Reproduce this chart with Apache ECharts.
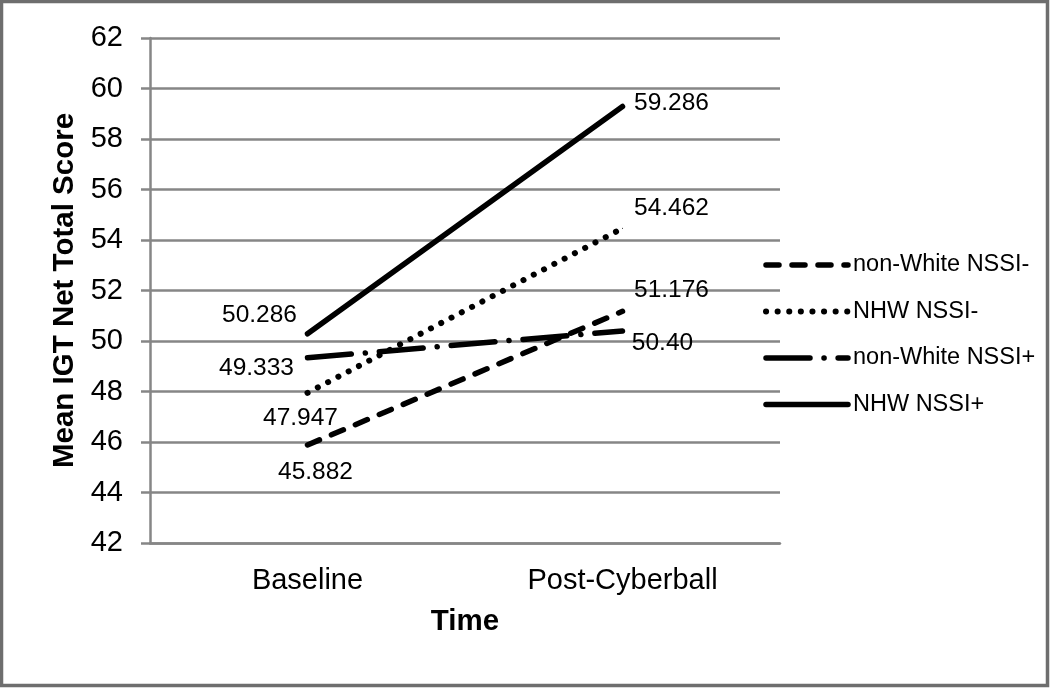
<!DOCTYPE html>
<html>
<head>
<meta charset="utf-8">
<script src="https://cdn.jsdelivr.net/npm/echarts@6/dist/echarts.min.js"></script>
<style>
html,body{margin:0;padding:0;background:#fff;}
#chart{width:1050px;height:688px;}
</style>
</head>
<body>
<div id="chart"></div>
<script>
const categories = ['Baseline', 'Post-Cyberball'];
const seriesNames = ['non-White NSSI-', 'NHW NSSI-', 'non-White NSSI+', 'NHW NSSI+'];
const nonWhiteNSSIminus = [45.882, 51.176];
const nhwNSSIminus = [47.947, 54.462];
const nonWhiteNSSIplus = [49.333, 50.40];
const nhwNSSIplus = [50.286, 59.286];
const labelTexts = [
  ['45.882', '51.176'],
  ['47.947', '54.462'],
  ['49.333', '50.40'],
  ['50.286', '59.286']
];
const yTicks = {min: 42, max: 62, interval: 2};

const FONT = '"Liberation Sans", Arial, sans-serif';
const labelOffsets = [
  [[8, 27], [49, -21]],
  [[-7, 25], [49, -20]],
  [[-51, 10], [40, 12]],
  [[-48, -19], [49, -3]]
];
const lineStyles = [
  {width: 5.5, type: [13, 13], cap: 'round'},
  {width: 6, type: [0.1, 11.5], cap: 'round'},
  {width: 5.5, type: [44, 14, 0.1, 14], cap: 'round'},
  {width: 5.5, type: 'solid', cap: 'round'}
];
const values = [nonWhiteNSSIminus, nhwNSSIminus, nonWhiteNSSIplus, nhwNSSIplus];

const series = seriesNames.map((name, i) => ({
  name: name,
  type: 'line',
  symbol: 'circle',
  symbolSize: 1,
  color: '#000',
  itemStyle: {color: '#000'},
  lineStyle: Object.assign({color: '#000'}, lineStyles[i]),
  data: values[i].map((v, j) => ({
    value: v,
    label: {
      show: true,
      position: 'inside',
      offset: labelOffsets[i][j],
      formatter: labelTexts[i][j],
      color: '#000',
      fontSize: 24.5,
      fontFamily: FONT
    }
  })),
  z: 3 + i
}));

const chart = echarts.init(document.getElementById('chart'));
chart.setOption({
  animation: false,
  backgroundColor: '#fff',
  grid: {left: 150, right: 270, top: 38, bottom: 145},
  legend: {
    orient: 'vertical',
    left: 758,
    top: 248,
    itemWidth: 82,
    itemHeight: 16,
    itemGap: 22.5,
    data: seriesNames.map((name, i) => ({
      name: name,
      lineStyle: {width: lineStyles[i].width, cap: 'round', type: lineStyles[i].type, color: '#000'}
    })),
    itemStyle: {opacity: 0},
    textStyle: {color: '#000', fontSize: 23.5, fontFamily: FONT}
  },
  xAxis: {
    type: 'category',
    data: categories,
    boundaryGap: true,
    name: 'Time',
    nameLocation: 'middle',
    nameGap: 64,
    nameTextStyle: {color: '#000', fontSize: 29.5, fontWeight: 'bold', fontFamily: FONT},
    axisLine: {lineStyle: {color: '#868686', width: 2.5}},
    axisTick: {show: false},
    axisLabel: {color: '#000', fontSize: 29, fontFamily: FONT, margin: 23}
  },
  yAxis: {
    type: 'value',
    min: yTicks.min,
    max: yTicks.max,
    interval: yTicks.interval,
    name: 'Mean IGT Net Total Score',
    nameLocation: 'middle',
    nameGap: 61,
    nameTextStyle: {color: '#000', fontSize: 29.5, fontWeight: 'bold', fontFamily: FONT},
    axisLine: {show: true, lineStyle: {color: '#868686', width: 2.5}},
    axisTick: {show: true, length: 9, lineStyle: {color: '#868686', width: 2.5}},
    splitLine: {show: true, lineStyle: {color: '#868686', width: 2.5}},
    axisLabel: {color: '#000', fontSize: 29, fontFamily: FONT, margin: 27}
  },
  graphic: [{
    type: 'rect',
    shape: {x: 1.5, y: 1.5, width: 1046, height: 684},
    style: {fill: 'none', stroke: '#6e6e6e', lineWidth: 3.5},
    silent: true
  }],
  series: series
});
</script>
</body>
</html>
